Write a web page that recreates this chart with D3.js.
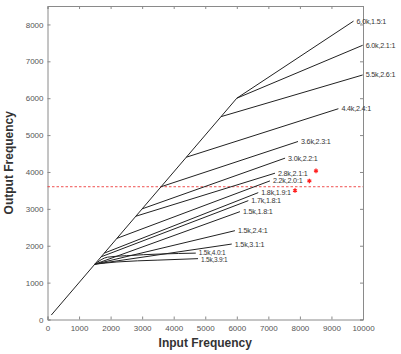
<!DOCTYPE html>
<html><head><meta charset="utf-8">
<script src="https://cdn.jsdelivr.net/npm/d3@7"></script>
<style>
html,body{margin:0;padding:0;background:#fff;}
svg{display:block;font-family:"Liberation Sans",Arial,sans-serif;}
</style></head>
<body><svg id="c" width="401" height="354"></svg>
<script>
// ---- data ----
const xTicks = [0,1000,2000,3000,4000,5000,6000,7000,8000,9000,10000];
const yTicks = [0,1000,2000,3000,4000,5000,6000,7000,8000];
const diagonal = [[120,120],[6000,6000]];
const lineLabels = ["6.0k,1.5:1","6.0k,2.1:1","5.5k,2.6:1","4.4k,2.4:1","3.6k,2.3:1","3.0k,2.2:1",
  "2.8k,2.1:1","2.2k,2.0:1","1.8k,1.9:1","1.7k,1.8:1","1.5k,1.8:1","1.5k,2.4:1","1.5k,3.1:1",
  "1.5k,4.0:1","1.5k,3.9:1"];
const linePoints = [
  [[6000,6000],[9700,8090]],
  [[6000,6000],[9990,7435]],
  [[5500,5500],[9990,6630]],
  [[4400,4400],[9220,5715]],
  [[3600,3600],[7940,4826]],
  [[3000,3000],[7530,4375]],
  [[2800,2800],[7210,3967]],
  [[2200,2200],[7050,3758]],
  [[1800,1800],[6680,3440]],
  [[1700,1700],[6365,3223]],
  [[1500,1500],[6100,2924]],
  [[1500,1500],[5940,2408]],
  [[1500,1500],[5840,2046]],
  [[1500,1500],[1900,1690],[2500,1730],[4700,1800]],
  [[1500,1500],[2200,1560],[3500,1610],[4770,1650]]
];
const starX = [8510,8300,7845];
const starY = [4030,3758,3495];
const refLevel = 3600;

// ---- chart ----
const svg = d3.select("#c");
const x = d3.scaleLinear().domain([0,10000]).range([47.5,363]);
const y = d3.scaleLinear().domain([0,8500]).range([319.5,6]);
const frame = "#8a8a8a";

const axB = svg.append("g").attr("transform",`translate(0,${y(0)})`)
  .call(d3.axisBottom(x).tickValues(xTicks).tickSize(-3).tickPadding(6).tickFormat(d3.format("d")));
const axT = svg.append("g").attr("transform",`translate(0,${y(8500)})`)
  .call(d3.axisTop(x).tickValues(xTicks).tickSize(-3).tickFormat(""));
const axL = svg.append("g").attr("transform",`translate(${x(0)},0)`)
  .call(d3.axisLeft(y).tickValues(yTicks).tickSize(-3).tickPadding(4).tickFormat(d3.format("d")));
const axR = svg.append("g").attr("transform",`translate(${x(10000)},0)`)
  .call(d3.axisRight(y).tickValues(yTicks).tickSize(-3).tickFormat(""));
[axB,axT,axL,axR].forEach(a=>{
  a.select(".domain").attr("stroke",frame).attr("stroke-width",1);
  a.selectAll(".tick line").attr("stroke",frame);
  a.selectAll("text").attr("fill","#555").attr("font-size","8px").attr("font-family","Liberation Sans, Arial, sans-serif");
});

svg.append("line")
  .attr("x1",x(0)).attr("x2",x(10000)).attr("y1",y(refLevel)).attr("y2",y(refLevel))
  .attr("stroke","#ee3333").attr("stroke-width",1).attr("stroke-dasharray","2.5,2").attr("opacity",0.85);

const line = d3.line().x(d=>x(d[0])).y(d=>y(d[1]));
const curve = d3.line().x(d=>x(d[0])).y(d=>y(d[1])).curve(d3.curveMonotoneX);

svg.append("path").attr("d",line(diagonal)).attr("fill","none").attr("stroke","#222").attr("stroke-width",1);

linePoints.forEach((pts,i)=>{
  svg.append("path").attr("d",(pts.length>2?curve:line)(pts))
    .attr("fill","none").attr("stroke","#222").attr("stroke-width",1);
  const e = pts[pts.length-1];
  const fs = i>=13 ? 6.5 : 7.2;
  svg.append("text").attr("x",x(e[0])+3).attr("y",y(e[1])+(i===14?3.5:i===13?1.5:2.5))
    .attr("font-size",fs+"px").attr("fill","#333").attr("letter-spacing","-0.2px").text(lineLabels[i]);
});

const star = d3.symbol().type(d3.symbolAsterisk).size(14);
starX.forEach((sx,i)=>{
  svg.append("path").attr("d",star()).attr("transform",`translate(${x(sx)},${y(starY[i])})`)
    .attr("stroke","#ff2020").attr("stroke-width",1.3).attr("fill","none");
});

svg.append("text").attr("x",(x(0)+x(10000))/2).attr("y",347).attr("text-anchor","middle")
  .attr("font-size","12px").attr("font-weight","bold").attr("fill","#333").text("Input Frequency");
svg.append("text").attr("transform",`translate(13,${(y(0)+y(8500))/2}) rotate(-90)`).attr("text-anchor","middle")
  .attr("font-size","12px").attr("font-weight","bold").attr("fill","#333").text("Output Frequency");
</script></body></html>
